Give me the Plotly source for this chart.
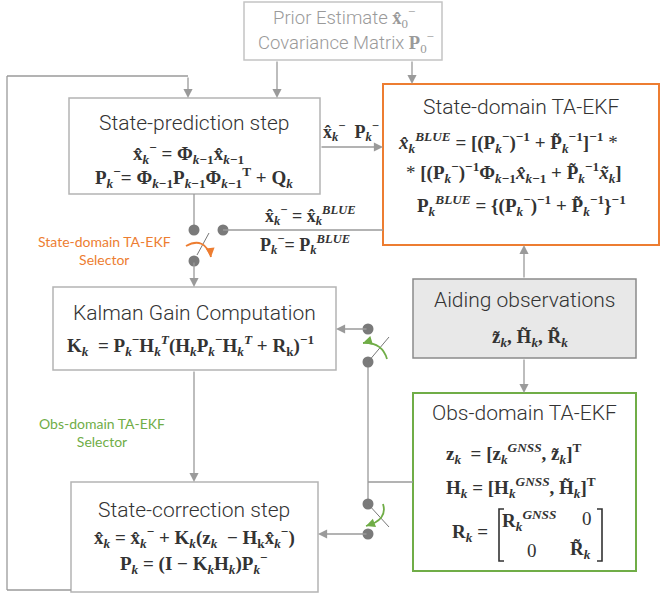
import plotly.graph_objects as go

W, H = 661, 612

# ---- diagram content (text) ----
K = "<i>k</i>"
KM1 = "<i>k</i>−1"
XH = "x\u0302"
PT = "P\u0303"
XT = "x\u0303"
ZT = "z\u0303"
HT = "H\u0303"
RT = "R\u0303"
MS = "<sup>−</sup>"

prior_lines = [
    "Prior Estimate <span style='font-family:Liberation Serif'><b>" + XH + "</b><sub>0</sub><sup>−</sup></span>",
    "Covariance Matrix <span style='font-family:Liberation Serif'><b>P</b><sub>0</sub><sup>−</sup></span>",
]
box_titles = ["State-prediction step", "State-domain TA-EKF", "Kalman Gain Computation",
              "Aiding observations", "Obs-domain TA-EKF", "State-correction step"]

pred_eqs = [
    f"<b>{XH}<sub>{K}</sub>{MS} = Φ<sub>{KM1}</sub>{XH}<sub>{KM1}</sub></b>",
    f"<b>P<sub>{K}</sub>{MS}= Φ<sub>{KM1}</sub>P<sub>{KM1}</sub>Φ<sub>{KM1}</sub><sup>T</sup> + Q<sub>{K}</sub></b>",
]
blue_eqs = [
    f"<b><i>{XH}</i><sub>{K}</sub><sup><i>BLUE</i></sup> = [(P<sub>{K}</sub>{MS})<sup>−1</sup> + {PT}<sub>{K}</sub><sup>−1</sup>]<sup>−1</sup></b> *",
    f"* <b>[(P<sub>{K}</sub>{MS})<sup>−1</sup>Φ<sub>{KM1}</sub><i>{XH}</i><sub>{KM1}</sub> + {PT}<sub>{K}</sub><sup>−1</sup><i>{XT}</i><sub>{K}</sub>]</b>",
    f"<b>P<sub>{K}</sub><sup><i>BLUE</i></sup> = {{(P<sub>{K}</sub>{MS})<sup>−1</sup> + {PT}<sub>{K}</sub><sup>−1</sup>}}<sup>−1</sup></b>",
]
switch_eqs = [
    f"<b>{XH}<sub>{K}</sub>{MS} = {XH}<sub>{K}</sub><sup><i>BLUE</i></sup></b>",
    f"<b>P<sub>{K}</sub>{MS}= P<sub>{K}</sub><sup><i>BLUE</i></sup></b>",
]
pred_out = f"<b>{XH}<sub>{K}</sub>{MS}  P<sub>{K}</sub>{MS}</b>"
kalman_eq = f"<b>K<sub>{K}</sub>  = P<sub>{K}</sub>{MS}H<sub>{K}</sub><sup><i>T</i></sup>(H<sub>{K}</sub>P<sub>{K}</sub>{MS}H<sub>{K}</sub><sup><i>T</i></sup> + R<sub>k</sub>)<sup>−1</sup></b>"
aiding_eq = f"<b>{ZT}<sub>{K}</sub>, {HT}<sub>{K}</sub>, {RT}<sub>{K}</sub></b>"
obs_eqs = [
    f"<b>z<sub>{K}</sub>  = [z<sub>{K}</sub><sup><i>GNSS</i></sup>, {ZT}<sub>{K}</sub>]<sup>T</sup></b>",
    f"<b>H<sub>{K}</sub> = [H<sub>{K}</sub><sup><i>GNSS</i></sup>, {HT}<sub>{K}</sub>]<sup>T</sup></b>",
]
r_lhs = f"<b>R<sub>{K}</sub> =</b>"
r_matrix = [f"<b>R<sub>{K}</sub><sup><i>GNSS</i></sup></b>", "0", "0", f"<b>{RT}<sub>{K}</sub></b>"]
corr_eqs = [
    f"<b>{XH}<sub>{K}</sub> = {XH}<sub>{K}</sub>{MS} + K<sub>{K}</sub>(z<sub>{K}</sub>  − H<sub>k</sub>{XH}<sub>{K}</sub>{MS})</b>",
    f"<b>P<sub>{K}</sub> = (I − K<sub>{K}</sub>H<sub>{K}</sub>)P<sub>{K}</sub>{MS}</b>",
]
selector_labels = ["State-domain TA-EKF<br>Selector", "Obs-domain TA-EKF<br>Selector"]

# ---- styles ----
ORANGE = "#ED7D31"
GREEN = "#70AD47"
LINE = "#9a9a9a"
BOX = "#b4b4b4"
DOT = "#7a7a7a"
TXT = "#333333"
TITLE_FONT = "Roboto"
EQ_FONT = "Liberation Serif"
SEL_FONT = "Lato"
EQ = 19
TS = 21

fig = go.Figure()
fig.add_trace(go.Scatter(x=[0, W], y=[0, H], mode="markers", marker=dict(opacity=0), hoverinfo="skip"))
fig.update_layout(
    width=W, height=H, margin=dict(l=0, r=0, t=0, b=0),
    paper_bgcolor="white", plot_bgcolor="white", showlegend=False,
    xaxis=dict(range=[0, W], visible=False, fixedrange=True),
    yaxis=dict(range=[H, 0], visible=False, fixedrange=True),
)

shapes = []
ann = []

def rect(x0, y0, x1, y1, color=BOX, width=1.5, fill="rgba(0,0,0,0)"):
    shapes.append(dict(type="rect", xref="x", yref="y", x0=x0, y0=y0, x1=x1, y1=y1,
                       line=dict(color=color, width=width), fillcolor=fill, layer="below"))

def line(x0, y0, x1, y1, color=LINE, width=1.3):
    shapes.append(dict(type="line", xref="x", yref="y", x0=x0, y0=y0, x1=x1, y1=y1,
                       line=dict(color=color, width=width)))

def arrow(x0, y0, x1, y1, color=LINE, width=1.3, size=1.4):
    ann.append(dict(x=x1, y=y1, ax=x0, ay=y0, xref="x", yref="y", axref="x", ayref="y",
                    text="", showarrow=True, arrowhead=2, arrowsize=size, arrowwidth=width,
                    arrowcolor=color, standoff=0, startstandoff=0))

def dot(x, y, r=5.5):
    shapes.append(dict(type="circle", xref="x", yref="y", x0=x - r, y0=y - r, x1=x + r, y1=y + r,
                       line=dict(color=DOT, width=0), fillcolor=DOT))

def curve(p0, c, p1, tail, color):
    shapes.append(dict(type="path", xref="x", yref="y",
                       path=f"M {p0[0]} {p0[1]} Q {c[0]} {c[1]} {p1[0]} {p1[1]}",
                       line=dict(color=color, width=1.8)))
    arrow(tail[0], tail[1], p1[0], p1[1], color=color, width=1.8, size=1.0)

def text(x, y, s, size=EQ, family=EQ_FONT, color=TXT, weight=None, align="center", xanchor="center"):
    f = dict(size=size, family=family, color=color)
    if weight:
        f["weight"] = weight
    ann.append(dict(x=x, y=y, xref="x", yref="y", text=s, showarrow=False, font=f,
                    align=align, xanchor=xanchor, yanchor="middle"))

# ---- boxes ----
rect(244, 2, 442, 60, color="#c4c4c4")
rect(69, 98, 320, 194)
rect(383, 84, 659, 245, color=ORANGE, width=2)
rect(53, 287, 336, 370)
rect(413, 279, 636, 358, color="#8a8a8a", fill="#E8E8E8")
rect(413, 393, 636, 571, color=GREEN, width=2)
rect(71, 482, 318, 592)

# ---- outer feedback loop ----
line(7, 76, 7, 590)
line(7, 76, 188, 76)
line(7, 590, 71, 590)
arrow(188, 76, 188, 98)

# prior -> prediction, prior -> state-domain
arrow(277, 60, 277, 98)
arrow(412, 60, 412, 84)

# prediction -> state-domain
arrow(320, 147, 383, 147)

# prediction -> selector -> kalman
line(194, 194, 194, 230)
dot(194, 230)
dot(194, 261)
dot(223, 230)
line(197, 255, 209, 233, color="#777777", width=1)
line(223, 230, 383, 230)
arrow(194, 261, 194, 287)
curve((186, 246), (204, 236), (211, 257), (210.5, 252), ORANGE)

# kalman -> correction
arrow(194, 370, 194, 482)

# aiding observations arrows
arrow(524, 279, 524, 245)
arrow(524, 358, 524, 393)

# obs-domain -> switches
line(413, 482, 368, 482)
line(368, 362, 368, 504)
dot(368, 329)
dot(368, 362)
line(368, 362, 389, 337, color="#777777", width=1)
arrow(368, 329, 336, 329)
curve((387, 359), (382, 342), (363, 343), (368, 341.5), GREEN)

dot(368, 504)
dot(368, 534)
line(368, 504, 389, 527, color="#777777", width=1)
arrow(368, 534, 318, 534)
curve((383, 504), (388, 520), (366, 526), (370, 524.5), GREEN)

# ---- texts ----
text(344, 17, prior_lines[0], size=18.5, family=TITLE_FONT, color="#9a9a9a", weight=300)
text(346, 42, prior_lines[1], size=18.5, family=TITLE_FONT, color="#9a9a9a", weight=300)

text(194, 123, box_titles[0], size=TS, family=TITLE_FONT, weight=300)
text(188, 153, pred_eqs[0])
text(194, 177, pred_eqs[1])

text(521, 107, box_titles[1], size=TS, family=TITLE_FONT, weight=300)
text(396, 142, blue_eqs[0], xanchor="left", align="left")
text(404, 172, blue_eqs[1], xanchor="left", align="left")
text(521, 205, blue_eqs[2])

text(351, 131, pred_out, size=18)
text(310, 215, switch_eqs[0], size=18)
text(305, 244, switch_eqs[1], size=18)

text(194, 313, box_titles[2], size=TS, family=TITLE_FONT, weight=300)
text(190, 345, kalman_eq)

text(524, 300, box_titles[3], size=TS, family=TITLE_FONT, weight=300)
text(530, 338, aiding_eq)

text(524, 413, box_titles[4], size=TS, family=TITLE_FONT, weight=300)
text(444, 453, obs_eqs[0], xanchor="left", align="left")
text(444, 487, obs_eqs[1], xanchor="left", align="left")
text(470, 533, r_lhs)
text(529, 520, r_matrix[0])
text(587, 518, r_matrix[1])
text(532, 550, r_matrix[2])
text(580, 550, r_matrix[3])
# matrix brackets
shapes.append(dict(type="path", xref="x", yref="y", path="M 504 509 L 499 509 L 499 561 L 504 561",
                   line=dict(color=TXT, width=1.6)))
shapes.append(dict(type="path", xref="x", yref="y", path="M 597 509 L 602 509 L 602 561 L 597 561",
                   line=dict(color=TXT, width=1.6)))

text(194, 510, box_titles[5], size=TS, family=TITLE_FONT, weight=300)
text(194, 537, corr_eqs[0])
text(194, 563, corr_eqs[1])

text(104, 250, selector_labels[0], size=14, family=SEL_FONT, color=ORANGE)
text(102, 432, selector_labels[1], size=14, family=SEL_FONT, color=GREEN)

fig.update_layout(shapes=shapes, annotations=ann)
fig.write_html("out.html", config={"displayModeBar": False},
               post_script="document.body.style.margin='0px';document.body.style.overflow='hidden';")
